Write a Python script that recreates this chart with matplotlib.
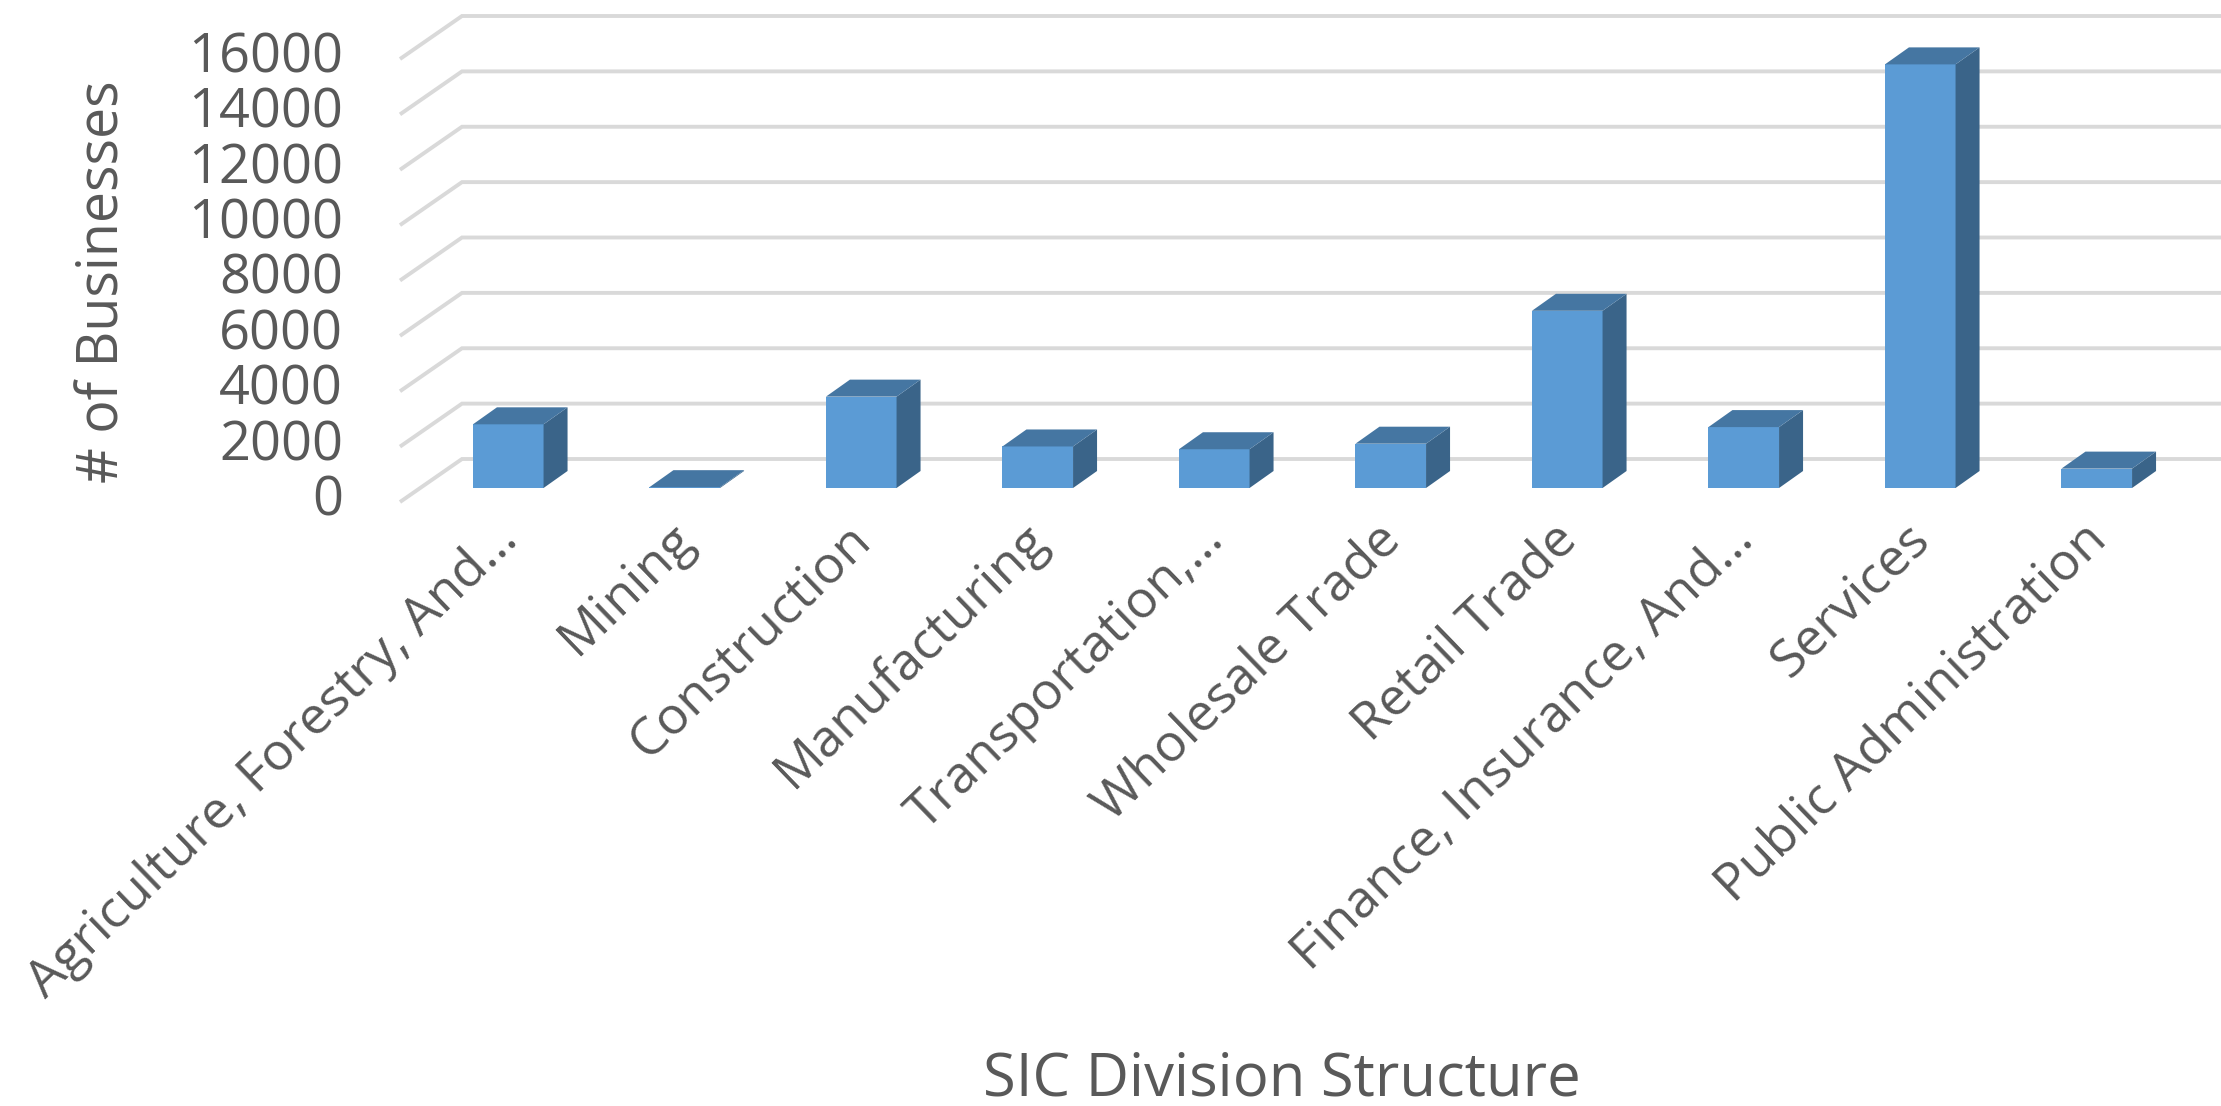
import matplotlib
matplotlib.use("Agg")
import matplotlib.pyplot as plt
from matplotlib.patches import Polygon

# ---- data ----
categories = ["Agriculture, Forestry, And…", "Mining", "Construction", "Manufacturing",
              "Transportation,…", "Wholesale Trade", "Retail Trade",
              "Finance, Insurance, And…", "Services", "Public Administration"]
values = [2300, 30, 3300, 1500, 1400, 1600, 6400, 2200, 15300, 700]
yticks = [0, 2000, 4000, 6000, 8000, 10000, 12000, 14000, 16000]
ytick_labels = [str(t) for t in yticks]
x_title = "SIC Division Structure"
y_title = "# of Businesses"

# ---- layout (pixels) ----
W, H = 2221, 1106
PX_PER_CAT = 176.5
X0_PX = 420          # left edge of category band (front plane of bars)
Y0_PX = 488          # value 0 on bar front plane (from top)
YMAX = 16000
PX_PER_VAL = 443 / YMAX

TEXT = "#595959"
GRID = "#d9d9d9"
FRONT = "#5B9BD5"
TOP = "#4576A2"
SIDE = "#3A6489"
FONT = ["Open Sans", "DejaVu Sans"]

plt.rcParams['font.family'] = FONT

fig = plt.figure(figsize=(W / 100, H / 100), dpi=100)
fig.patch.set_facecolor("white")
ax = fig.add_axes([X0_PX / W, (H - Y0_PX) / H, len(categories) * PX_PER_CAT / W, YMAX * PX_PER_VAL / H])
ax.set_xlim(-0.5, len(categories) - 0.5)
ax.set_ylim(0, YMAX)
ax.axis("off")


def dxd(px):
    return px / PX_PER_CAT


def dyd(px):
    return px / PX_PER_VAL


xmin, xmax = -0.5, len(categories) - 0.5

# gridlines: left wall (slanted) + back wall (horizontal)
for v in yticks:
    xs = [xmin + dxd(-20), xmin + dxd(42), xmax + dxd(120)]
    ys = [v + dyd(-14), v + dyd(29), v + dyd(29)]
    ax.plot(xs, ys, color=GRID, lw=2.8, clip_on=False, zorder=1,
            solid_capstyle="butt", solid_joinstyle="miter")

# bars
bw = 0.40
ddx, ddy = dxd(24), dyd(17)
xpos = list(range(len(categories)))
ax.bar(xpos, values, width=bw, color=FRONT, zorder=3, clip_on=False, linewidth=0)
for x, v in zip(xpos, values):
    r = x + bw / 2
    l = x - bw / 2
    side = Polygon([(r, 0), (r + ddx, ddy), (r + ddx, v + ddy), (r, v)],
                   closed=True, facecolor=SIDE, edgecolor="none", zorder=3, clip_on=False)
    top = Polygon([(l, v), (r, v), (r + ddx, v + ddy), (l + ddx, v + ddy)],
                  closed=True, facecolor=TOP, edgecolor="none", zorder=4, clip_on=False)
    ax.add_patch(side)
    ax.add_patch(top)

# y tick labels
for v, lab in zip(yticks, ytick_labels):
    ax.text(xmin + dxd(343 - X0_PX), v + dyd(-13), lab, ha="right", va="center",
            fontsize=39, color=TEXT, clip_on=False)

# category labels
for x, lab in zip(xpos, categories):
    ax.text(x + dxd(2), dyd(-(532 - Y0_PX)), lab, rotation=44, rotation_mode="anchor",
            ha="right", va="center", fontsize=37.5, color=TEXT, clip_on=False)

# axis titles
fig.text(104 / W, 1 - 282 / H, y_title, rotation=90, ha="center", va="center",
         fontsize=40, color=TEXT)
fig.text(1282 / W, 1 - 1080 / H, x_title, ha="center", va="center",
         fontsize=43, color=TEXT)

fig.savefig("out.png", dpi=100, facecolor="white")
